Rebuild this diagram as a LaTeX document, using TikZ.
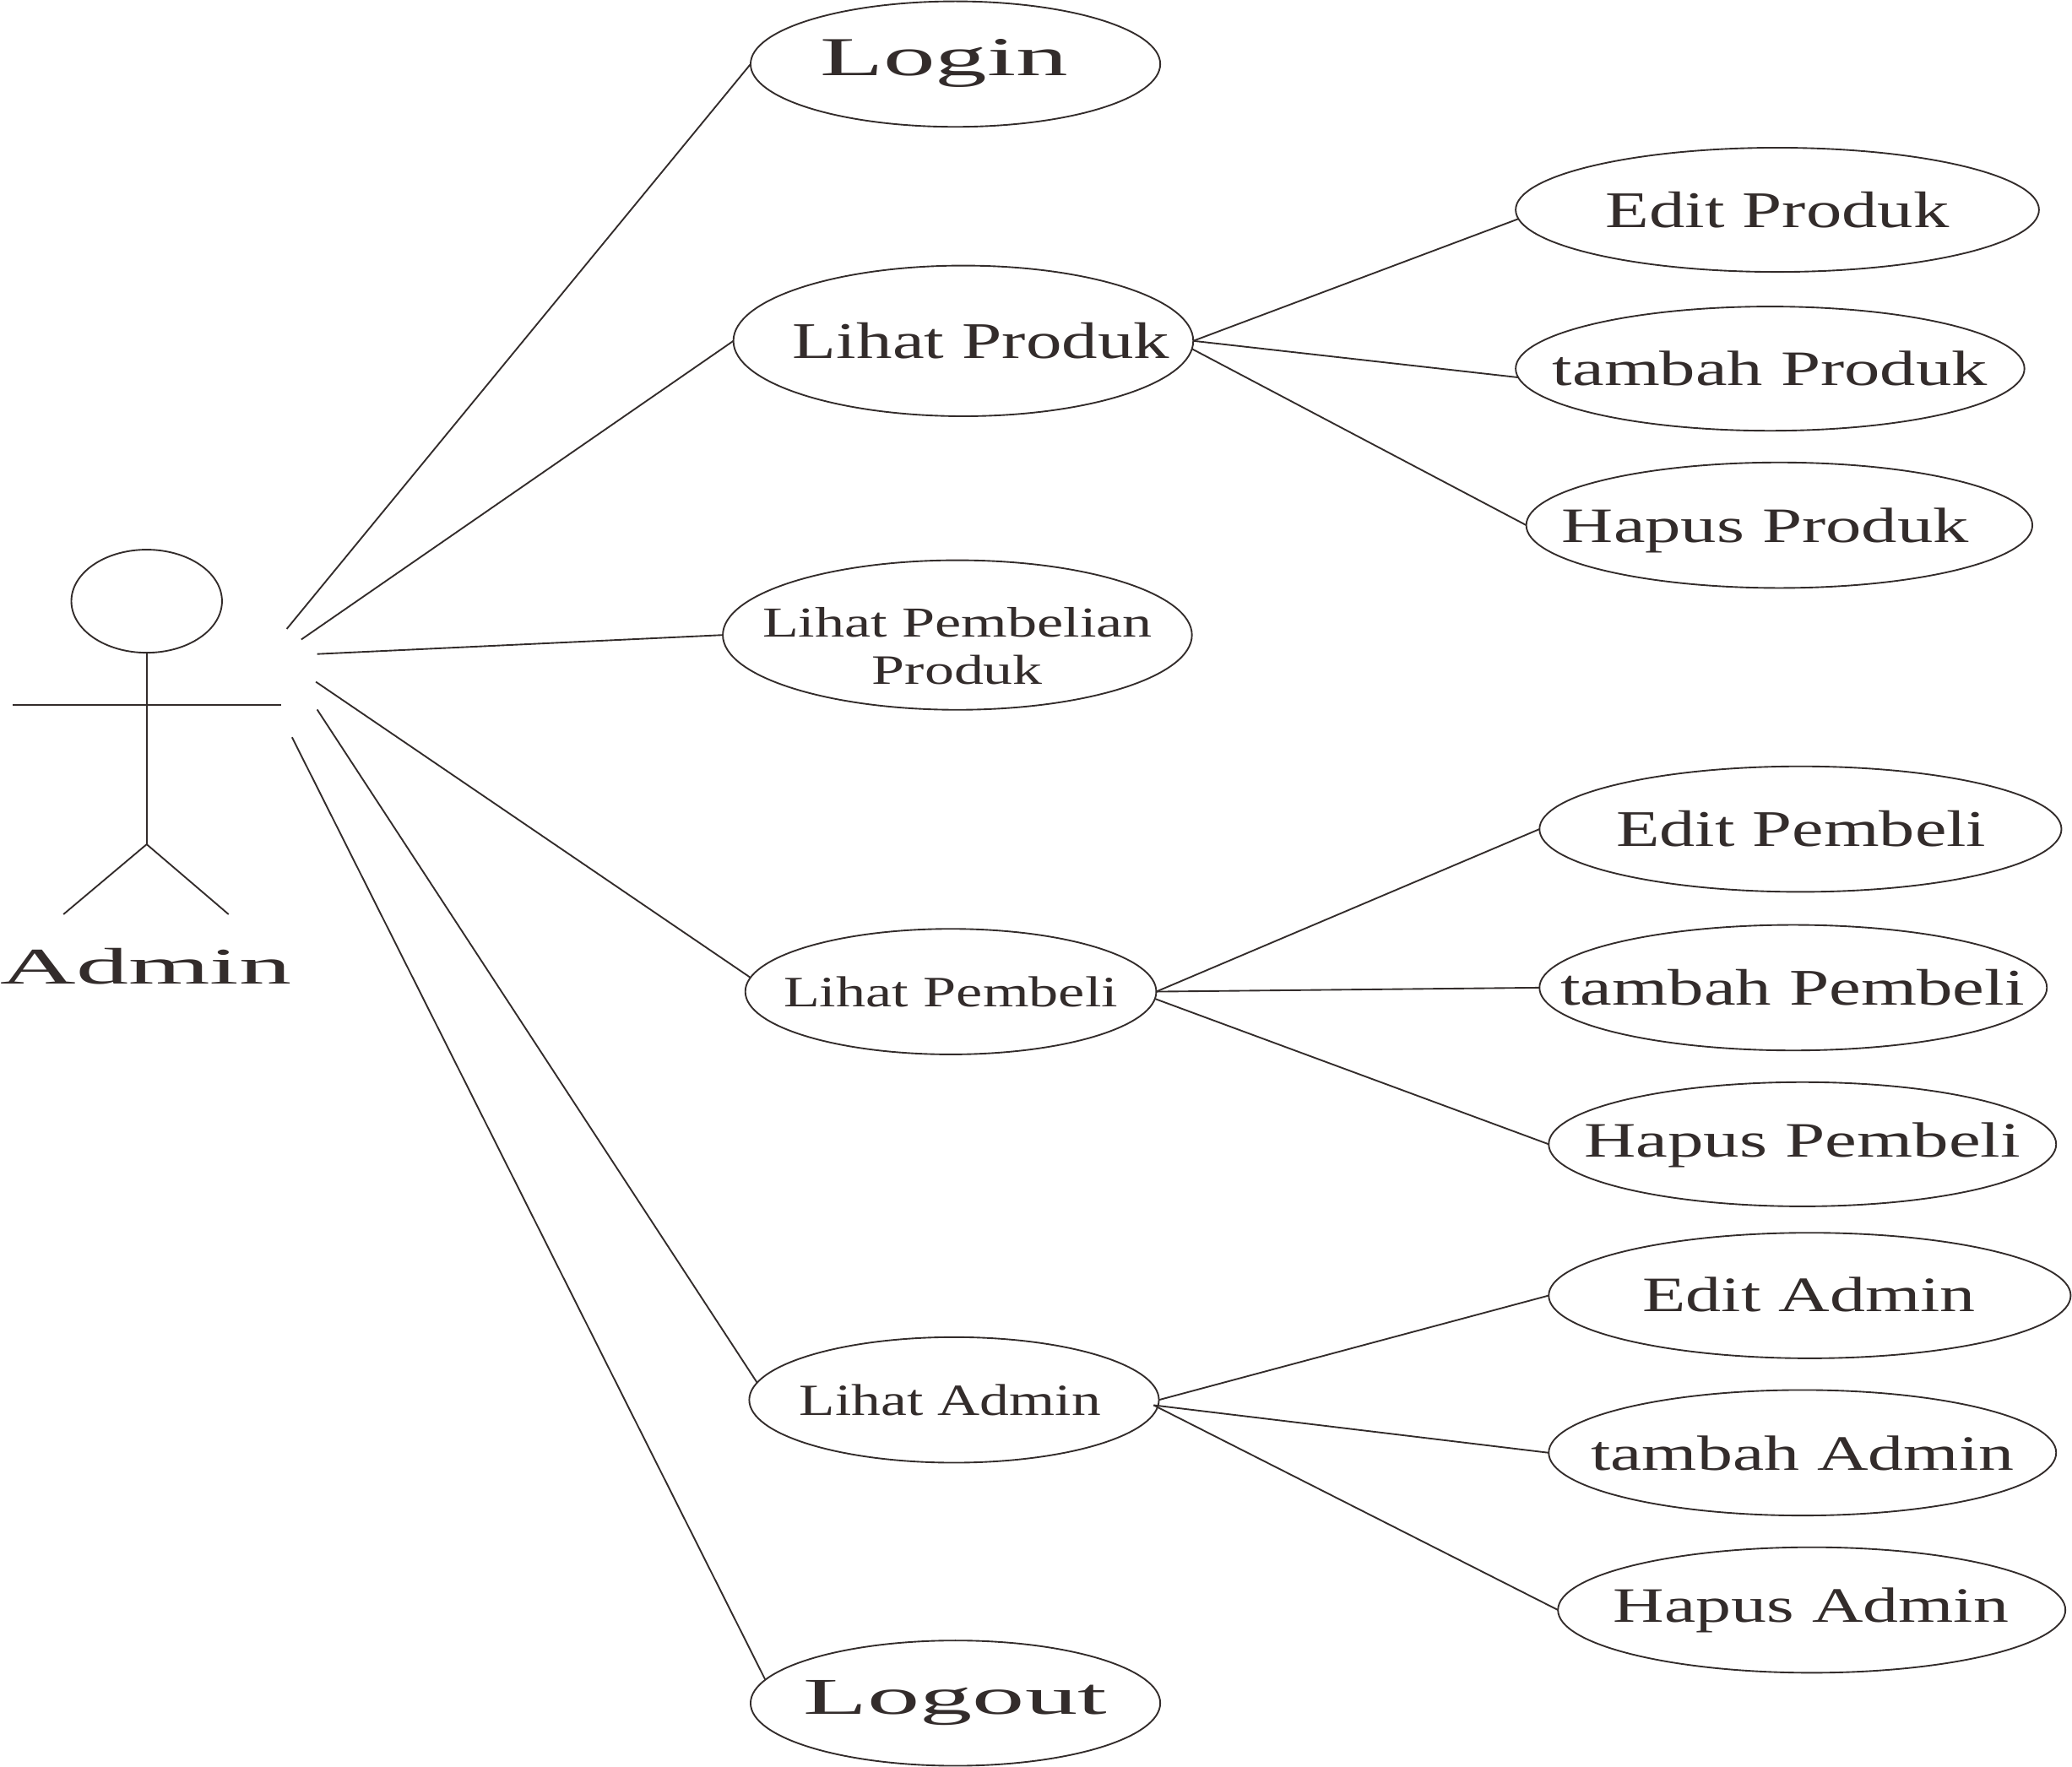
\documentclass[tikz,border=0pt]{standalone}
\usepackage{graphicx}
\usepackage{fontspec}
\setmainfont{Liberation Serif}
\definecolor{ink}{HTML}{332C2B}
\usetikzlibrary{shapes.geometric}
\tikzset{
  uc/.style={draw=ink,line width=1.2pt,ellipse,inner sep=0pt,outer sep=0pt},
  lbl/.style={anchor=base,inner sep=0pt,outer sep=0pt,text=ink},
  wire/.style={draw=ink,line width=1.2pt}
}
% name, cx, cy, rx, ry
\newcommand{\ucell}[5]{\node[uc,minimum width=#4*2pt,minimum height=#5*2pt] (#1) at (#2,#3) {};}
% name, left, right, baseline, top, text
\newcommand{\utxt}[6]{%
  \pgfmathsetmacro{\tw}{#3-#2}\pgfmathsetmacro{\th}{#4-#5}\pgfmathsetmacro{\tc}{(#2+#3)/2}%
  \node[lbl] (#1) at (\tc,#4) {\resizebox{\tw pt}{\th pt}{#6}};}
\begin{document}
\begin{tikzpicture}[x=1pt,y=-1pt]
\useasboundingbox (0,0) rectangle (1568,1337.3);
% actor
\node[uc,minimum width=114pt,minimum height=78pt] (head) at (111,455) {};
\coordinate (hip) at (111,639);
\coordinate (armL) at (9.5,533.5);
\coordinate (armR) at (213,533.5);
\coordinate (legL) at (48,692);
\coordinate (legR) at (173,692);
\draw[wire] (head.south) -- (hip);
\draw[wire] (armL) -- (armR);
\draw[wire] (legL) -- (hip) -- (legR);
\utxt{admin}{0.5}{220.5}{745}{718}{Admin}
% use cases
\ucell{login}{723}{48.5}{155}{47.5}
\ucell{lproduk}{729}{258}{174}{57}
\ucell{eproduk}{1345}{158.8}{198}{47}
\ucell{tproduk}{1339.5}{279}{192.5}{47}
\ucell{hproduk}{1346.5}{397.5}{191.5}{47.5}
\ucell{lbeli}{724.5}{480.6}{177.5}{56.6}
\ucell{epembeli}{1362.5}{627.5}{197.5}{47.5}
\ucell{tpembeli}{1357}{747.5}{192}{47.5}
\ucell{hpembeli}{1364}{866}{192}{47}
\ucell{lpembeli}{719.5}{750.5}{155.5}{47.5}
\ucell{eadmin}{1369.5}{980.5}{197.5}{47.5}
\ucell{tadmin}{1364}{1099.5}{192}{47.5}
\ucell{hadmin}{1371}{1218.5}{192}{47.5}
\ucell{ladmin}{722}{1059.5}{155}{47.5}
\ucell{logout}{723}{1289}{155}{47.4}
% labels
\utxt{tlogin}{620.5}{808.5}{57}{29.5}{Login}
\utxt{tlproduk}{600}{885}{271}{244}{Lihat Produk}
\utxt{teproduk}{1215}{1475}{172.5}{145.5}{Edit Produk}
\utxt{ttproduk}{1175}{1504}{291.5}{265.5}{tambah Produk}
\utxt{thproduk}{1182}{1490}{410.5}{384.5}{Hapus Produk}
\utxt{tlbelia}{577}{872}{482}{459.6}{Lihat Pembelian}
\utxt{tlbelib}{660}{789}{518}{496}{Produk}
\utxt{tepembeli}{1223}{1503}{640.5}{613.5}{Edit Pembeli}
\utxt{ttpembeli}{1181}{1532}{760.5}{733.5}{tambah Pembeli}
\utxt{thpembeli}{1199}{1529}{875.5}{849.5}{Hapus Pembeli}
\utxt{tlpembeli}{593}{846}{761.8}{739}{Lihat Pembeli}
\utxt{teadmin}{1243}{1495}{992.5}{966.5}{Edit Admin}
\utxt{ttadmin}{1204}{1524}{1112.5}{1086.5}{tambah Admin}
\utxt{thadmin}{1221}{1520}{1227.5}{1201.5}{Hapus Admin}
\utxt{tladmin}{605}{833}{1071.4}{1048}{Lihat Admin}
\utxt{tlogout}{608}{837.5}{1297.6}{1272}{Logout}
% actor-side free ends
\coordinate (a1) at (217,476);
\coordinate (a2) at (228,484);
\coordinate (a3) at (240,495);
\coordinate (a4) at (239,516);
\coordinate (a5) at (240,537);
\coordinate (a6) at (221,558);
\draw[wire] (a1) -- (login.west);
\draw[wire] (a2) -- (lproduk.west);
\draw[wire] (a3) -- (lbeli.west);
\draw[wire] (a4) -- (lpembeli.176.5);
\draw[wire] (a5) -- (ladmin.175.6);
\draw[wire] (a6) -- (logout.173);
% includes
\coordinate (jadmin) at (873,1063.5);
\draw[wire] (lproduk.east) -- (eproduk.182);
\draw[wire] (lproduk.east) -- (tproduk.182);
\draw[wire] (lproduk.358) -- (hproduk.west);
\draw[wire] (lpembeli.east) -- (epembeli.west);
\draw[wire] (lpembeli.east) -- (tpembeli.west);
\draw[wire] (lpembeli.358) -- (hpembeli.west);
\draw[wire] (ladmin.east) -- (eadmin.west);
\draw[wire] (jadmin) -- (tadmin.west);
\draw[wire] (jadmin) -- (hadmin.west);
\end{tikzpicture}
\end{document}
